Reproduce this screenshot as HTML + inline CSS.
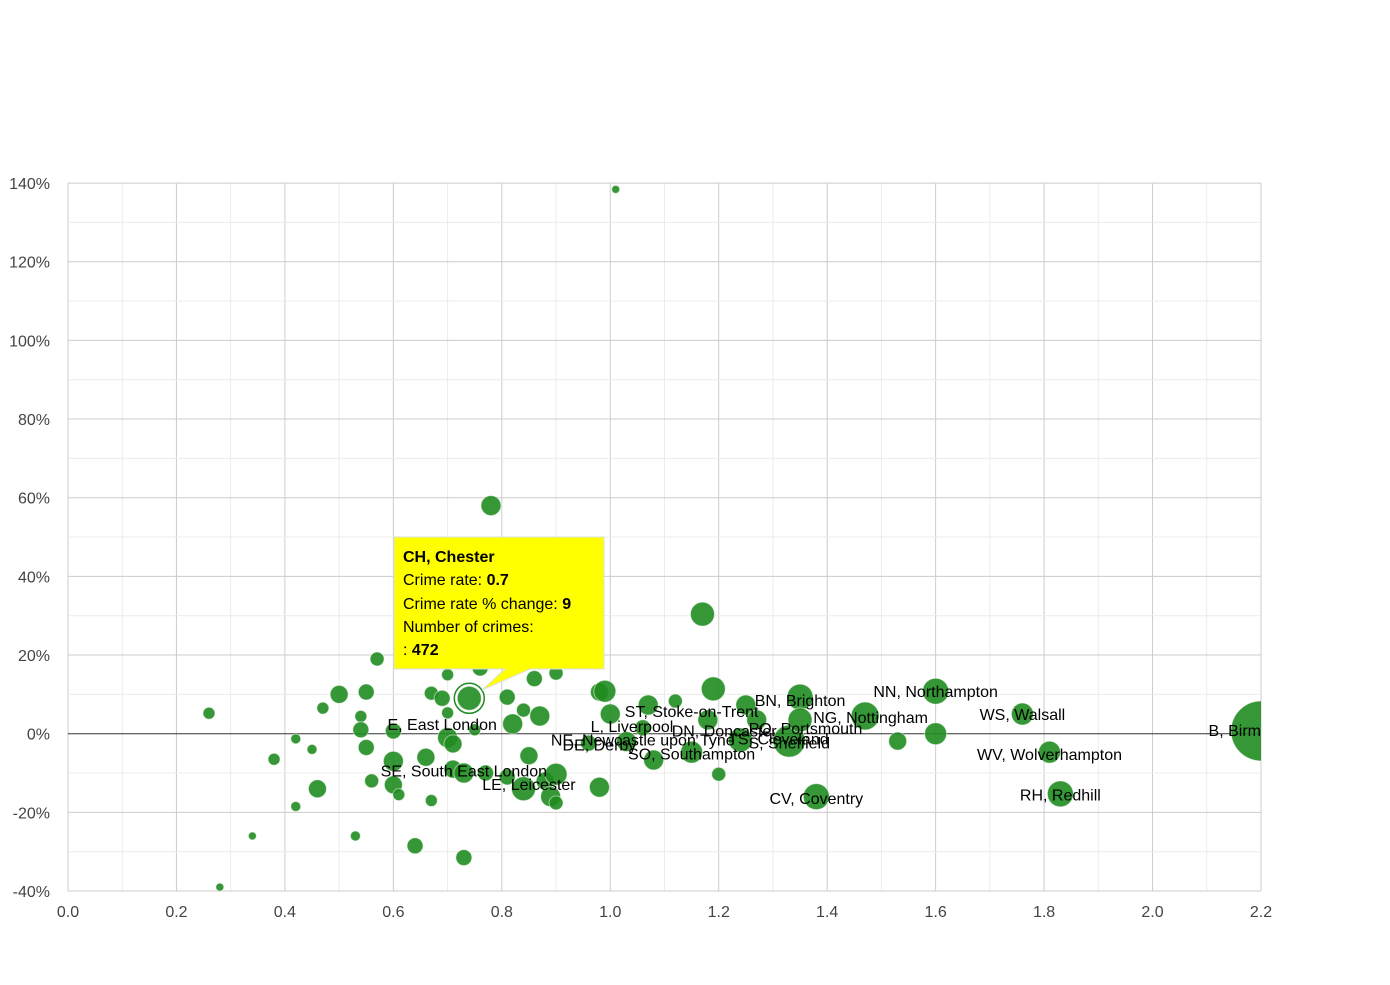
<!DOCTYPE html>
<html><head><meta charset="utf-8"><style>
body{margin:0;background:#fff;font-family:"Liberation Sans",sans-serif}
svg text{font-family:"Liberation Sans",sans-serif}
</style></head><body>
<svg id="chart" width="1390" height="980" xmlns="http://www.w3.org/2000/svg">
<g id="grid"></g>
<g id="axes"></g>
<g id="bubbles" clip-path="url(#clip)"></g>
<g id="labels" clip-path="url(#clip)"></g>
<defs><clipPath id="clip"><rect x="68" y="183" width="1193" height="708"/></clipPath></defs>
<g id="tooltip">
<path d="M394,537 H604 V669 H530 L482,690 L505,669 H394 Z" fill="#ffff00" stroke="#ddd" stroke-width="1"/>
<text x="403" y="562" font-size="16" font-weight="bold">CH, Chester</text>
<text x="403" y="585" font-size="16">Crime rate: <tspan font-weight="bold">0.7</tspan></text>
<text x="403" y="609" font-size="16">Crime rate % change: <tspan font-weight="bold">9</tspan></text>
<text x="403" y="632" font-size="16">Number of crimes:</text>
<text x="403" y="655" font-size="16">: <tspan font-weight="bold">472</tspan></text>
</g>
</svg>
<script>
const xs=[1.01,0.26,0.28,0.34,0.38,0.42,0.42,0.45,0.46,0.47,0.50,0.53,0.54,0.54,0.55,0.55,0.56,0.57,0.60,0.60,0.60,0.61,0.64,0.66,0.67,0.67,0.69,0.70,0.70,0.70,0.71,0.71,0.73,0.73,0.74,0.75,0.76,0.78,0.77,0.81,0.81,0.82,0.84,0.84,0.85,0.86,0.87,0.88,0.89,0.90,0.90,0.90,0.98,0.98,0.99,1.00,0.96,1.03,1.06,1.07,1.08,1.12,1.15,1.17,1.19,1.20,1.18,1.24,1.25,1.27,1.33,1.35,1.35,1.38,1.47,1.53,1.60,1.60,1.76,1.81,1.83,2.20];
const ys=[138.4,5.2,-39,-26,-6.5,-1.3,-18.5,-4,-14,6.5,10,-26,4.4,1,10.6,-3.5,-12,19,-7,-13,0.7,-15.5,-28.5,-6,10.3,-17,9,15,5.3,-1,-2.6,-9,-10,-31.5,9,1,16.7,58,-10,9.3,-11,2.5,6,-14,-5.6,14,4.5,-12,-16,15.4,-10.3,-17.6,-13.6,10.6,10.8,5,-2.4,-2,1.5,7.3,-6.7,8.3,-4.7,30.4,11.4,-10.3,3.5,-1.6,7.3,3.5,-1.9,9.3,3.5,-16,4.5,-1.9,10.8,0,5,-4.7,-15.3,0.7];
const sizes=[4,6,4,4,6,5,5,5,9,6,9,5,6,8,8,8,7,7,10,9,8,6,8,9,7,6,8,6,6,10,9,9,10,8,12,6,8,10,8,8,8,10,7,12,9,8,10,9,10,7,11,7,10,9,11,10,8,10,8,10,10,7,11,12,12,7,10,12,10,10,16,13,12,13,14,9,13,11,11,11,13,30];
const labelNames=["E, East London","SE, South East London","LE, Leicester","NE, Newcastle upon Tyne","DE, Derby","SO, Southampton","L, Liverpool","ST, Stoke-on-Trent","DN, Doncaster","TS, Cleveland","S, Sheffield","PO, Portsmouth","BN, Brighton","NG, Nottingham","NN, Northampton","WS, Walsall","WV, Wolverhampton","CV, Coventry","RH, Redhill","B, Birmingham"];
const labelX=[0.69,0.73,0.85,1.06,0.98,1.15,1.04,1.15,1.21,1.31,1.33,1.36,1.35,1.48,1.60,1.76,1.81,1.38,1.83,2.20];
const labelY=[2.5,-9.3,-12.8,-1.5,-2.8,-5,2,5.8,0.8,-1.2,-2.2,1.4,8.6,4.2,10.8,5,-5.2,-16.3,-15.4,1];
const xTicks=[0,0.2,0.4,0.6,0.8,1.0,1.2,1.4,1.6,1.8,2.0,2.2];
const yTicks=[-40,-20,0,20,40,60,80,100,120,140];
const NS="http://www.w3.org/2000/svg";
const X=v=>68+v/2.2*1193, Y=v=>733.7-v*3.933;
function mk(t,a,p){const e=document.createElementNS(NS,t);for(const k in a)e.setAttribute(k,a[k]);p.appendChild(e);return e;}
const grid=document.getElementById('grid'),axes=document.getElementById('axes');
for(let i=0;i<=22;i++){const v=i*0.1;const l=mk('line',{x1:X(v),x2:X(v),y1:183,y2:891,stroke:i%2?'#ececec':'#cccccc'},grid);

}
for(let v=-40;v<=140;v+=10){const l=mk('line',{x1:68,x2:1261,y1:Y(v),y2:Y(v),stroke:v===0?'#333':(v%20?'#ececec':'#cccccc')},grid);

}
xTicks.forEach(v=>{const t=mk('text',{x:X(v),y:917,'font-size':16,fill:'#444','text-anchor':'middle'},axes);t.textContent=v.toFixed(1);

});
yTicks.forEach(v=>{const t=mk('text',{x:50,y:Y(v)+6,'font-size':16,fill:'#444','text-anchor':'end'},axes);t.textContent=v+'%';

});
const bg=document.getElementById('bubbles');
xs.forEach((x,i)=>{const c=mk('circle',{cx:X(x),cy:Y(ys[i]),r:sizes[i],fill:'#1f8c1f','fill-opacity':0.9,stroke:'#fff','stroke-opacity':0.5},bg);

});
const hl=mk('circle',{cx:X(0.74),cy:Y(9),r:15,fill:'none',stroke:'#1f8c1f','stroke-width':1.5},bg);


const lg=document.getElementById('labels');
labelNames.forEach((n,i)=>{const t=mk('text',{x:X(labelX[i]),y:Y(labelY[i])+6,'font-size':16,fill:'#000','text-anchor':'middle'},lg);t.textContent=n;

});
</script>
</body></html>
